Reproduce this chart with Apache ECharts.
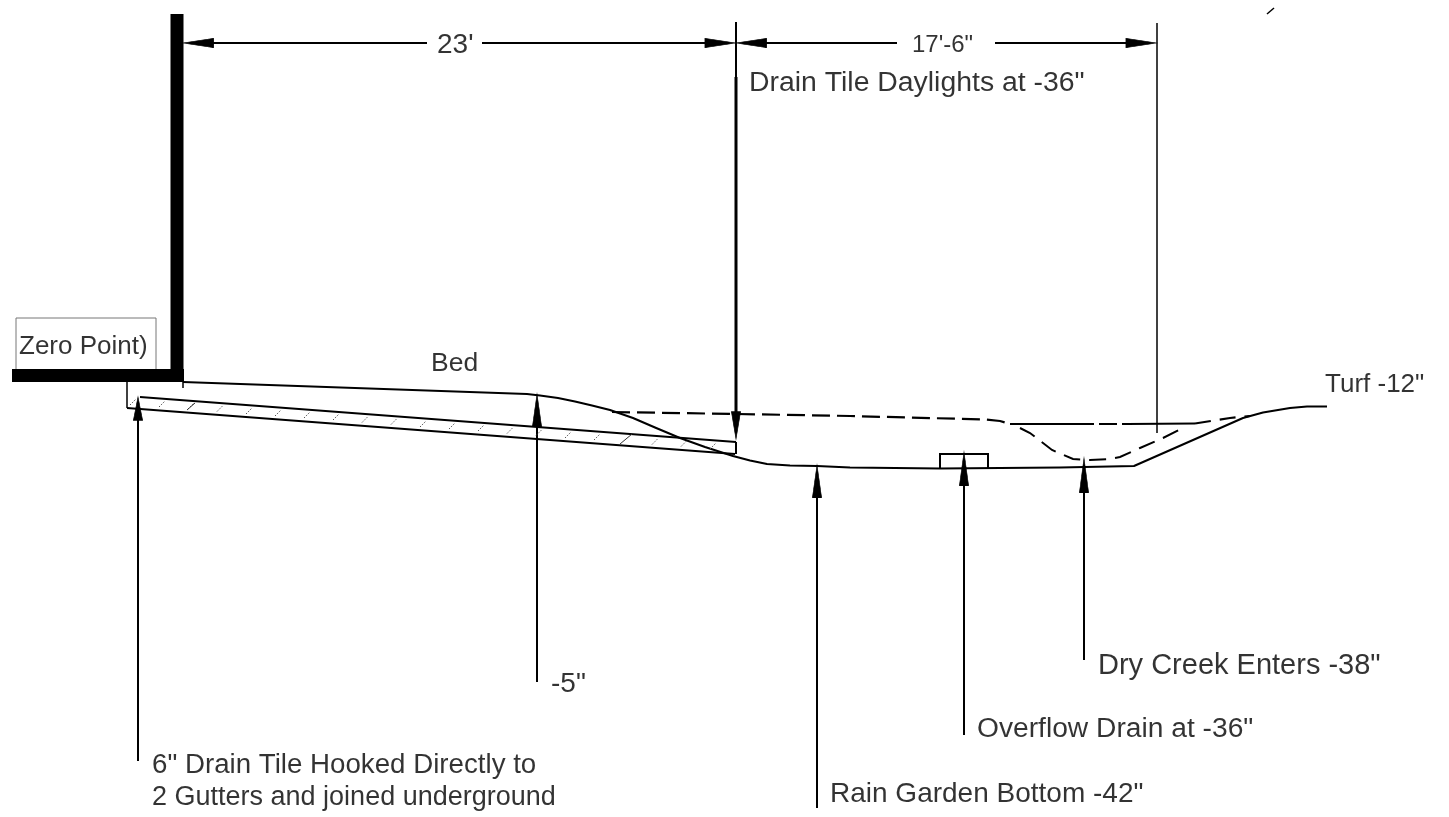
<!DOCTYPE html>
<html><head><meta charset="utf-8">
<style>html,body{margin:0;padding:0;background:#fff}#c{width:1449px;height:817px}</style>
<script src="https://cdn.jsdelivr.net/npm/echarts@6/dist/echarts.min.js"></script>
</head><body><div id="c"></div>
<script>
// Drawing units of the section sheet
const wallVertical = [[177,14],[177,382]];
const wallFooting = [[12,375.5],[184,375.5]];
const zeroBox = [[16,369],[16,318],[156,318],[156,369]];
const groundProfile = [[183,382],[527,394],[540,395.5],[558,398],[575,401.5],[592,405.5],[610,410],[633,418],[655,427.5],[680,438],[705,447],[733,456],[750,460.5],[767,464],[790,465.5],[817,466],[850,467.5],[940,468.5],[1060,467.5],[1134,466],[1243,418],[1263,412.5],[1290,408],[1307,406.5],[1327,406.5]];
const tileTop = [[140,397],[736,442]];
const tileBottom = [[127,408],[735,454]];
const tileEnd = [[736,442],[736,454]];
const tileCap = [[127,382],[127,408]];
const wallTick = [[183,382],[183,388]];
const waterDashed = [[612,412],[737,414],[850,416],[985,419.5],[1000,421],[1010,424]];
const waterSolidA = [[1010,424],[1076,424]];
const waterDashedB = [[1076,424],[1127,424]];
const waterSolidB = [[1127,424],[1195,423.5]];
const waterDashedC = [[1195,423.5],[1230,418],[1250,416]];
const creekBed = [[1020,428],[1030,433],[1052,450],[1073,459],[1090,460],[1110,459],[1120,457],[1140,448],[1163,438],[1185,427]];
const drainBox = [[940,468],[940,454],[988,454],[988,468]];
const leaders = [
  [[138,415],[138,761]],
  [[537,420],[537,682]],
  [[817,490],[817,808]],
  [[964,480],[964,735]],
  [[1084,485],[1084,660]],
  [[1157,23],[1157,433]],
  [[736,22],[736,77]]
];
const heavyLeader = [[736,77],[736,420]];
const dimensionLines = [
  [[205,43],[427,43]],
  [[482,43],[715,43]],
  [[750,43],[897,43]],
  [[995,43],[1135,43]]
];
const stray = [[1267,14],[1274,8]];
const hatchCentres = [[133,402],[162,404],[191,406],[220,408.5],[249,411],[278,413],[307,415],[336,417],[365,419.5],[394,421.5],[423,424],[452,426],[481,428],[510,430.5],[539,432.5],[568,435],[597,437],[655,441.5],[684,443.5],[713,446]];
const hatchSolid = [[[620,444],[632,434]],[[187,410],[195,403]]];
// Arrowheads: centre x, centre y, direction, length
const arrowHeads = [
  [138,408.5,0,23],[537,410,0,32],[817,481,0,32],[964,468.5,0,33],[1084,475,0,34],
  [736,425.5,180,27],[198,43,90,30],[720.5,43,-90,30],[751,43,90,30],[1141.5,43,-90,30]
];
const textItems = ['23\'','17\'-6"','Drain Tile Daylights at -36"','Zero Point)','Bed','Turf -12"','-5"','Dry Creek Enters -38"','Overflow Drain at -36"','Rain Garden Bottom -42"','6" Drain Tile Hooked Directly to','2 Gutters and joined underground'];
const textAnchors = [[437,45],[912,45],[749,83],[19,347],[431,364],[1325,385],[551,684],[1098,666],[977,729],[830,794],[152,765],[152,798]];
const textSizes = [28,24,28.4,26,26.5,26,28,29,28.2,28,27.7,27];

const line=(data,width,extra)=>({type:'line',data,symbol:'none',silent:true,animation:false,smooth:false,
  lineStyle:Object.assign({color:'#000',width,cap:'butt',join:'miter'},extra||{})});
const series=[
  line(wallVertical,13),line(wallFooting,13),
  line(zeroBox,1,{color:'#777'}),
  line(groundProfile,2,{join:'round'}),line(tileTop,2),line(tileBottom,2),line(tileEnd,2),line(tileCap,1.5),line(wallTick,1.5),
  line(waterDashed,2.2,{type:[18,7]}),line(waterSolidA,2.2),line(waterDashedB,2.2,{type:[18,5]}),line(waterSolidB,2.2),line(waterDashedC,2.2,{type:[16,9]}),
  line(creekBed,2,{type:[17,9]}),line(drainBox,2),
  line(heavyLeader,3),line(stray,1.5)
];
leaders.forEach(l=>series.push(line(l,l[0][0]===1157?1.5:2)));
dimensionLines.forEach(l=>series.push(line(l,2)));
hatchCentres.forEach(p=>series.push(line([[p[0]-3,p[1]+3],[p[0]+3,p[1]-3]],1,{type:[1.5,1.5],color:'#555'})));
hatchSolid.forEach(l=>series.push(line(l,1,{color:'#333'})));
series.push({type:'scatter',silent:true,animation:false,itemStyle:{color:'#000',borderColor:'#000',borderWidth:1,opacity:1},
  data:arrowHeads.map(a=>({value:[a[0],a[1]],symbol:'triangle',symbolSize:[9,a[3]],symbolRotate:a[2]}))});
series.push({type:'scatter',silent:true,animation:false,symbolSize:1,itemStyle:{color:'rgba(0,0,0,0)'},
  data:textItems.map((t,i)=>({value:textAnchors[i],label:{show:true,position:'inside',formatter:()=>t,align:'left',verticalAlign:'middle',
    color:'#000',fontFamily:'Liberation Sans',fontSize:textSizes[i]}}))});
const chart=echarts.init(document.getElementById('c'),null,{renderer:'canvas'});
chart.setOption({animation:false,backgroundColor:'#fff',
  grid:{left:0,right:0,top:0,bottom:0,containLabel:false},
  xAxis:{type:'value',min:0,max:1449,show:false},
  yAxis:{type:'value',min:0,max:817,inverse:true,show:false},
  series});
</script></body></html>
